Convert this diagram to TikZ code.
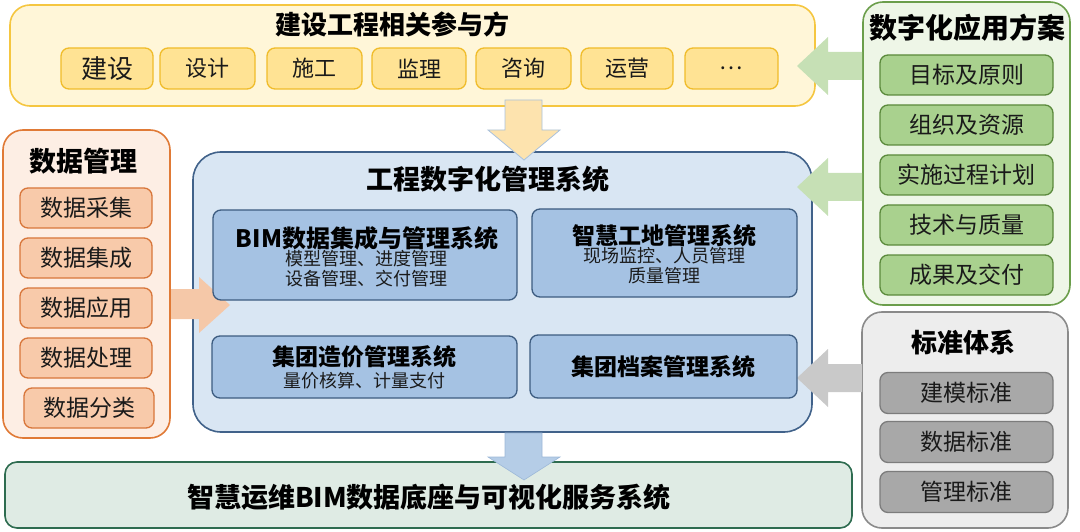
\documentclass[tikz,border=0pt]{standalone}
\usepackage{fontspec}
\setmainfont{Noto Sans CJK SC}
\usetikzlibrary{calc}
\definecolor{yOutF}{HTML}{FFF6D8}
\definecolor{yOutD}{HTML}{F5C640}
\definecolor{yInF}{HTML}{FFE394}
\definecolor{yInD}{HTML}{F0BC2A}
\definecolor{oOutF}{HTML}{FDEEE4}
\definecolor{oOutD}{HTML}{E07A36}
\definecolor{oInF}{HTML}{F8CAAA}
\definecolor{oInD}{HTML}{D8763A}
\definecolor{bOutF}{HTML}{D9E6F3}
\definecolor{bOutD}{HTML}{41628A}
\definecolor{bInF}{HTML}{A5C2E3}
\definecolor{bInD}{HTML}{3D5C80}
\definecolor{gOutF}{HTML}{EEF6E7}
\definecolor{gOutD}{HTML}{6B9E4B}
\definecolor{gInF}{HTML}{A9D18E}
\definecolor{gInD}{HTML}{5B8A3C}
\definecolor{kOutF}{HTML}{EDEDED}
\definecolor{kOutD}{HTML}{8A8A8A}
\definecolor{kInF}{HTML}{A8A8A8}
\definecolor{kInD}{HTML}{7C7C7C}
\definecolor{tOutF}{HTML}{DFEBE4}
\definecolor{tOutD}{HTML}{2E6C50}
\definecolor{arY}{HTML}{FDE3AE}
\definecolor{arYD}{HTML}{A9C1DD}
\definecolor{arB}{HTML}{B5CDE7}
\definecolor{arBD}{HTML}{9CB8D8}
\definecolor{arG}{HTML}{C6E0B5}
\definecolor{arK}{HTML}{C9C9C9}
\definecolor{arO}{HTML}{F5C8A8}
\definecolor{txt}{HTML}{1A1A1A}
\tikzset{
  outer/.style={draw, line width=1.6pt, rounded corners=20pt, inner sep=0pt},
  inner/.style={draw, line width=1.3pt, rounded corners=8pt, inner sep=0pt, text=txt},
  ttl/.style={font=\bfseries, text=black, inner sep=0pt},
  subtxt/.style={inner sep=0pt, align=center, text=txt, font=\fontsize{18}{20}\selectfont},
}
\newcommand{\fs}[1]{\fontsize{#1}{#1}\selectfont}
\begin{document}
\begin{tikzpicture}[x=1pt,y=-1pt]
\useasboundingbox (0,0) rectangle (1080,532);
% ---------- outer boxes ----------
\node[outer, fill=yOutF, draw=yOutD, minimum width=805, minimum height=101] (top) at (412.5,55.5) {};
\node[outer, fill=oOutF, draw=oOutD, minimum width=167, minimum height=308] (dm) at (86.5,284) {};
\node[outer, fill=bOutF, draw=bOutD, minimum width=619, minimum height=280, rounded corners=28pt] (mid) at (502.5,292) {};
\node[outer, fill=gOutF, draw=gOutD, minimum width=207, minimum height=303] (app) at (966.5,153.5) {};
\node[outer, fill=kOutF, draw=kOutD, minimum width=206, minimum height=216] (std) at (965,420) {};
\node[outer, fill=tOutF, draw=tOutD, minimum width=847, minimum height=66, rounded corners=12pt] (bot) at (428.5,495) {};
% ---------- block arrows ----------
\draw[fill=arY, draw=arYD, line width=0.8pt]
  (505,100) -- (542,100) -- (542,130) -- (560,130) -- (524,160) -- (488,130) -- (505,130) -- cycle;
\draw[fill=arB, draw=arBD, line width=0.6pt]
  (505,433) -- (542,433) -- (542,457) -- (560,457) -- (524,480) -- (488,457) -- (505,457) -- cycle;
\fill[arG] (862,52) -- (828,52) -- (828,37) -- (797,66) -- (828,95) -- (828,80) -- (862,80) -- cycle;
\fill[arG] (862,173) -- (828,173) -- (828,158) -- (797,187) -- (828,216) -- (828,201) -- (862,201) -- cycle;
\fill[arK] (862,364) -- (828,364) -- (828,349) -- (797,378) -- (828,407) -- (828,392) -- (862,392) -- cycle;
\fill[arO] (171,289) -- (199,289) -- (199,277) -- (230,305) -- (199,333) -- (199,319) -- (171,319) -- cycle;
% ---------- top group ----------
\node[ttl, font=\fs{26}\bfseries] (topT) at (392,24) {建设工程相关参与方};
\node[inner, fill=yInF, draw=yInD, minimum width=92, minimum height=41, font=\fs{26}] (p1) at (107,68.5) {建设};
\node[inner, fill=yInF, draw=yInD, minimum width=95, minimum height=41, font=\fs{22}] (p2) at (207.5,68.5) {设计};
\node[inner, fill=yInF, draw=yInD, minimum width=95, minimum height=41, font=\fs{22}] (p3) at (314.5,68.5) {施工};
\node[inner, fill=yInF, draw=yInD, minimum width=94, minimum height=41, font=\fs{22}] (p4) at (419,68.5) {监理};
\node[inner, fill=yInF, draw=yInD, minimum width=95, minimum height=41, font=\fs{22}] (p5) at (523.5,68.5) {咨询};
\node[inner, fill=yInF, draw=yInD, minimum width=92, minimum height=41, font=\fs{22}] (p6) at (627,68.5) {运营};
\node[inner, fill=yInF, draw=yInD, minimum width=93, minimum height=41, font=\fs{22}] (p7) at (731.5,68.5) {…};
% ---------- data management ----------
\node[ttl, font=\fs{27}\bfseries] (dmT) at (84,161) {数据管理};
\node[inner, fill=oInF, draw=oInD, minimum width=132, minimum height=40, font=\fs{23}] (d1) at (86,208) {数据采集};
\node[inner, fill=oInF, draw=oInD, minimum width=132, minimum height=40, font=\fs{23}] (d2) at (86,258) {数据集成};
\node[inner, fill=oInF, draw=oInD, minimum width=132, minimum height=40, font=\fs{23}] (d3) at (86,308) {数据应用};
\node[inner, fill=oInF, draw=oInD, minimum width=132, minimum height=40, font=\fs{23}] (d4) at (86,358) {数据处理};
\node[inner, fill=oInF, draw=oInD, minimum width=130, minimum height=40, font=\fs{23}] (d5) at (89,408) {数据分类};
% ---------- middle system ----------
\node[ttl, font=\fs{27}\bfseries] (midT) at (488,179) {工程数字化管理系统};
\node[inner, fill=bInF, draw=bInD, minimum width=304, minimum height=90] (s1) at (365,255) {};
\node[ttl, font=\fs{24}\bfseries] (s1T) at (367,238) {BIM数据集成与管理系统};
\node[subtxt] (s1S) at (366,269) {模型管理、进度管理\\设备管理、交付管理};
\node[inner, fill=bInF, draw=bInD, minimum width=265, minimum height=88] (s2) at (664.5,253) {};
\node[ttl, font=\fs{23}\bfseries] (s2T) at (664,236) {智慧工地管理系统};
\node[subtxt] (s2S) at (664,266) {现场监控、人员管理\\质量管理};
\node[inner, fill=bInF, draw=bInD, minimum width=305, minimum height=62] (s3) at (364.5,367) {};
\node[ttl, font=\fs{23}\bfseries] (s3T) at (364,357) {集团造价管理系统};
\node[subtxt] (s3S) at (364,381) {量价核算、计量支付};
\node[inner, fill=bInF, draw=bInD, minimum width=267, minimum height=63] (s4) at (663.5,366.5) {};
\node[ttl, font=\fs{23}\bfseries] (s4T) at (663,367) {集团档案管理系统};
% ---------- application plan ----------
\node[ttl, font=\fs{28}\bfseries] (appT) at (967,28) {数字化应用方案};
\node[inner, fill=gInF, draw=gInD, minimum width=173, minimum height=40, font=\fs{23}] (a1) at (966.5,75) {目标及原则};
\node[inner, fill=gInF, draw=gInD, minimum width=173, minimum height=40, font=\fs{23}] (a2) at (966.5,125) {组织及资源};
\node[inner, fill=gInF, draw=gInD, minimum width=173, minimum height=40, font=\fs{23}] (a3) at (966.5,175) {实施过程计划};
\node[inner, fill=gInF, draw=gInD, minimum width=173, minimum height=40, font=\fs{23}] (a4) at (966.5,225) {技术与质量};
\node[inner, fill=gInF, draw=gInD, minimum width=173, minimum height=40, font=\fs{23}] (a5) at (966.5,275) {成果及交付};
% ---------- standards ----------
\node[ttl, font=\fs{26}\bfseries] (stdT) at (963,343) {标准体系};
\node[inner, fill=kInF, draw=kInD, minimum width=173, minimum height=41, font=\fs{23}] (k1) at (966.5,393) {建模标准};
\node[inner, fill=kInF, draw=kInD, minimum width=173, minimum height=41, font=\fs{23}] (k2) at (966.5,442) {数据标准};
\node[inner, fill=kInF, draw=kInD, minimum width=173, minimum height=41, font=\fs{23}] (k3) at (966.5,492) {管理标准};
% ---------- bottom ----------
\node[ttl, font=\fs{27}\bfseries] (botT) at (429,497) {智慧运维BIM数据底座与可视化服务系统};
\end{tikzpicture}
\end{document}
